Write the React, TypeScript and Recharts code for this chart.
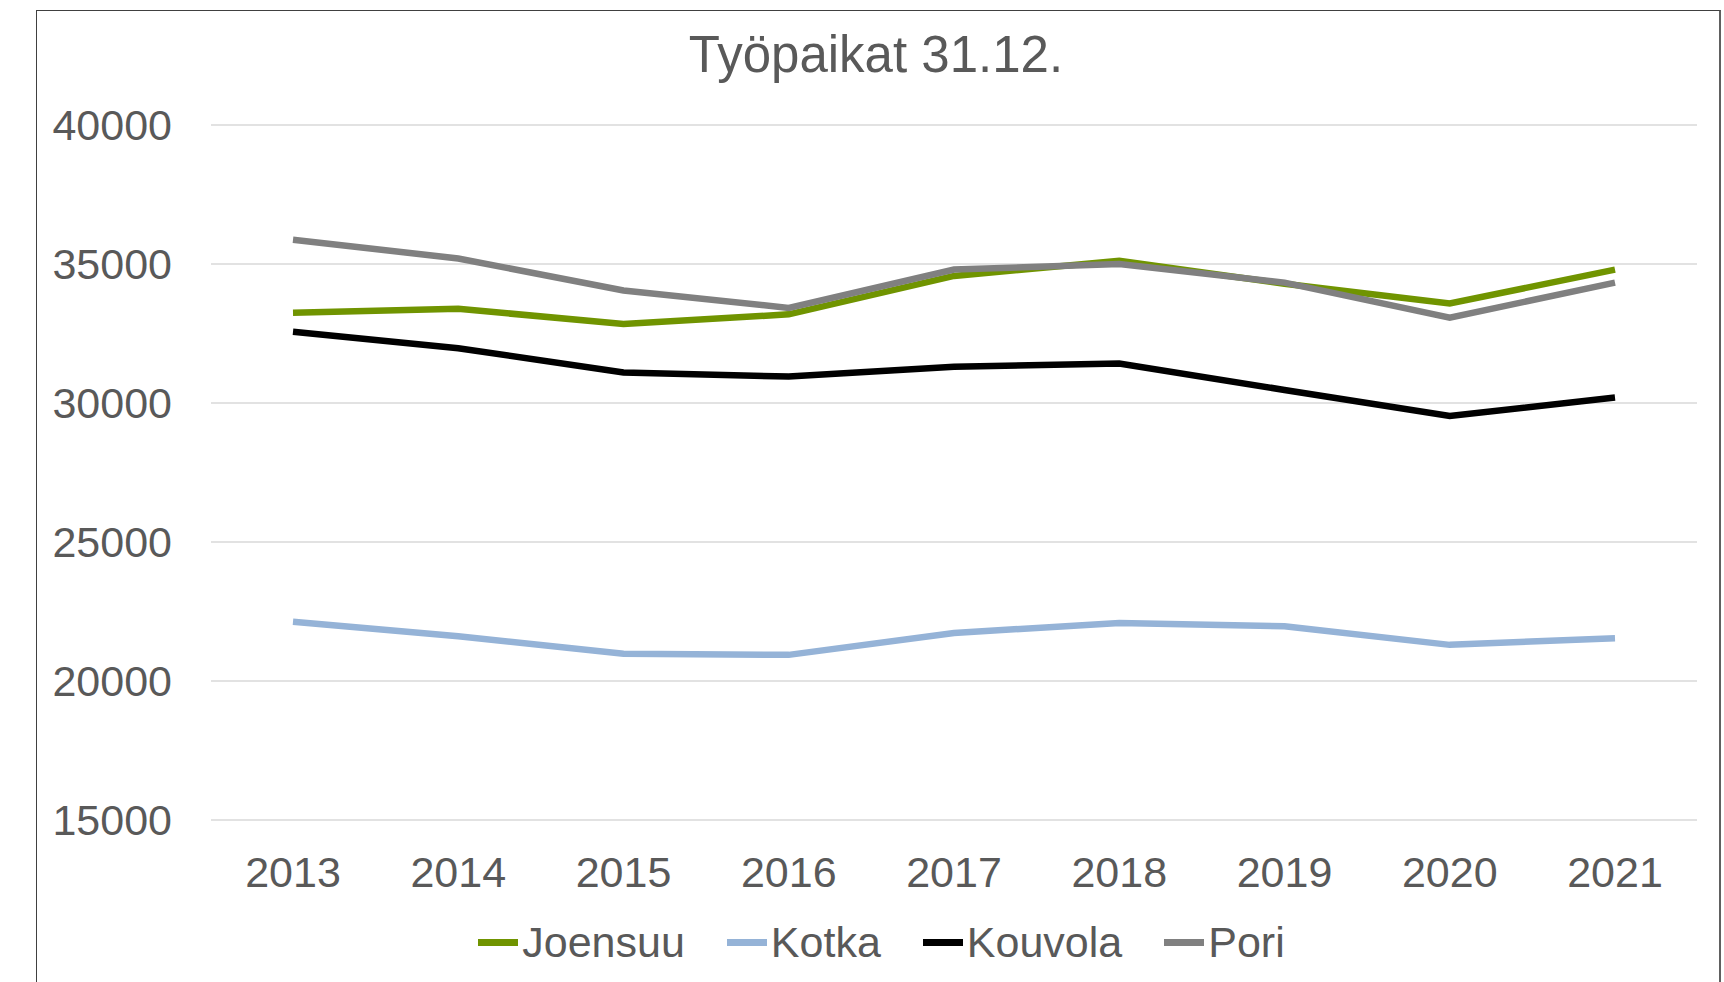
import React from 'react'
import { LineChart, Line, XAxis, YAxis, CartesianGrid, Legend } from 'recharts'

const years = ['2013', '2014', '2015', '2016', '2017', '2018', '2019', '2020', '2021']
const joensuu = [33250, 33390, 32840, 33190, 34570, 35120, 34290, 33580, 34800]
const kotka = [22130, 21610, 20980, 20940, 21730, 22090, 21970, 21300, 21540]
const kouvola = [32560, 31970, 31100, 30950, 31300, 31420, 30470, 29530, 30200]
const pori = [35870, 35200, 34050, 33420, 34800, 35000, 34330, 33070, 34330]
const yTicks = [15000, 20000, 25000, 30000, 35000, 40000]

const seriesList = [
    { key: 'Joensuu', values: joensuu, color: '#709400' },
    { key: 'Kotka', values: kotka, color: '#95b3d7' },
    { key: 'Kouvola', values: kouvola, color: '#000000' },
    { key: 'Pori', values: pori, color: '#808080' },
]

const data = years.map((year, i) => {
    const row: Record<string, string | number> = { year }
    seriesList.forEach(s => { row[s.key] = s.values[i] })
    return row
})

const font = '"Liberation Sans", Arial, sans-serif'
const textColor = '#595959'

function LegendContent() {
    return (
        <div style={{
            display: 'flex', justifyContent: 'center', alignItems: 'center', height: 58,
            paddingLeft: 108, position: 'relative', top: -11,
        }}>
            {seriesList.map(s => (
                <div key={s.key} style={{ display: 'flex', alignItems: 'center', marginRight: 42 }}>
                    <div style={{ width: 40, height: 7, background: s.color, marginRight: 4 }} />
                    <span style={{ fontFamily: font, fontSize: 43, color: textColor, lineHeight: '49px' }}>{s.key}</span>
                </div>
            ))}
        </div>
    )
}

export default function App() {
    return (
        <div style={{ position: 'absolute', left: 0, top: 0, width: 1724, height: 982, overflow: 'hidden', background: '#fff' }}>
            <div style={{
                position: 'absolute', left: 36, top: 10, width: 1682, height: 980,
                borderLeft: '1.5px solid #404040', borderTop: '1.5px solid #404040', borderRight: '2px solid #606060',
            }} />
            <div style={{
                position: 'absolute', left: 0, width: 1752, top: 25, textAlign: 'center',
                fontFamily: font, fontSize: 51, color: textColor, lineHeight: '60px',
            }}>
                Työpaikat 31.12.
            </div>
            <div style={{ position: 'absolute', left: 0, top: 0 }}>
                <LineChart
                    width={1724}
                    height={982}
                    data={data}
                    margin={{ top: 125, right: 27, left: 0, bottom: 0 }}
                >
                    <CartesianGrid horizontal vertical={false} stroke="#d9d9d9" strokeWidth={1.5} />
                    <XAxis
                        dataKey="year"
                        axisLine={false}
                        tickLine={false}
                        tickSize={0}
                        tickMargin={36}
                        height={104}
                        padding={{ left: 82, right: 82 }}
                        tick={{ fontSize: 43, fill: textColor, fontFamily: font }}
                        interval={0}
                    />
                    <YAxis
                        domain={[15000, 40000]}
                        ticks={yTicks}
                        axisLine={false}
                        tickLine={false}
                        tickSize={0}
                        tickMargin={39}
                        width={211}
                        tick={{ fontSize: 43, fill: textColor, fontFamily: font }}
                    />
                    <Legend verticalAlign="bottom" content={<LegendContent />} />
                    {seriesList.map(s => (
                        <Line
                            key={s.key}
                            dataKey={s.key}
                            stroke={s.color}
                            strokeWidth={6.5}
                            dot={false}
                            type="linear"
                            isAnimationActive={false}
                        />
                    ))}
                </LineChart>
            </div>
        </div>
    )
}
